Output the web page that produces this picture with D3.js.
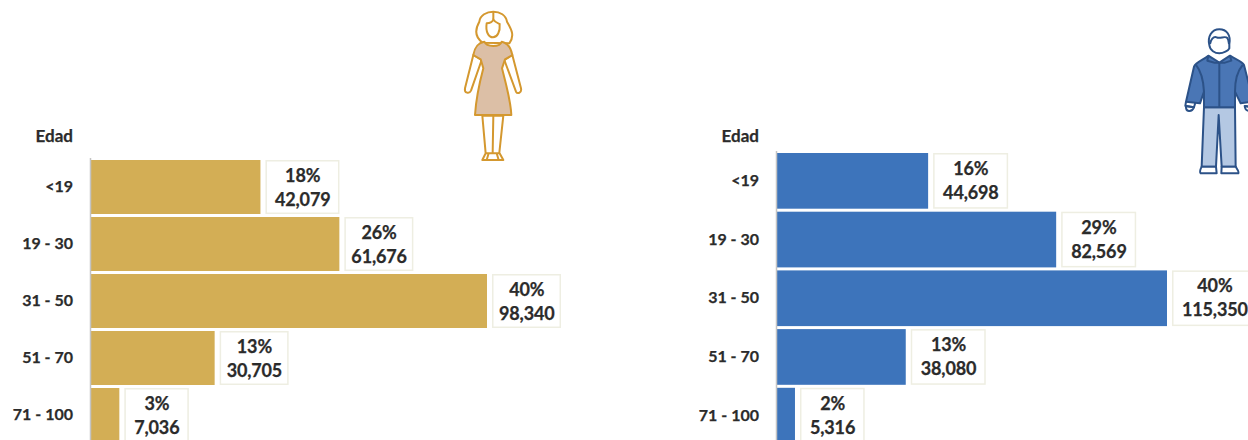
<!DOCTYPE html>
<html>
<head>
<meta charset="utf-8">
<script src="https://cdn.jsdelivr.net/npm/d3@7"></script>
<style>
html, body { margin: 0; padding: 0; background: #fff; overflow: hidden; }
svg { display: block; }
text { font-family: Lato, "Open Sans", sans-serif; font-weight: 700; fill: #2b2b2b; stroke: #2b2b2b; stroke-width: 0.25px; }
.axis text { font-size: 16px; }
.lbl { font-size: 18px; letter-spacing: -0.15px; }
</style>
</head>
<body>
<div id="chart"></div>
<script>
// Chart values
var ageGroups = ["<19", "19 - 30", "31 - 50", "51 - 70", "71 - 100"];
var womenCounts = [42079, 61676, 98340, 30705, 7036];
var womenPct = ["18%", "26%", "40%", "13%", "3%"];
var menCounts = [44698, 82569, 115350, 38080, 5316];
var menPct = ["16%", "29%", "40%", "13%", "2%"];

var svgWdt = 1248;
var svgHgt = 440;

var svg = d3.select("#chart").append("svg")
    .attr("width", svgWdt)
    .attr("height", svgHgt);

// One bar panel, counts + pct labels in boxes next to the bars
function drawPanel(opt) {
    var x = d3.scaleLinear()
        .domain([0, d3.max(opt.counts)])
        .range([opt.x0, opt.x1]);
    var y = d3.scaleBand()
        .domain(ageGroups)
        .range([opt.top, opt.top + opt.step * 5 - 3])
        .paddingInner(3 / opt.step)
        .paddingOuter(0);

    var grp = svg.append("g");

    grp.selectAll(".bar").data(opt.counts)
        .enter()
        .append("rect")
            .attr("class", "bar")
            .attr("x", x(0))
            .attr("y", (d, i) => y(ageGroups[i]))
            .attr("width", d => x(d) - x(0))
            .attr("height", y.bandwidth())
            .attr("fill", opt.color);

    // Category axis
    var lftRule = d3.axisLeft(y).tickSize(0).tickPadding(17.5);
    var yAxis = grp.append("g").attr("class", "axis")
        .attr("transform", `translate(${opt.x0 - 0.5}, 0)`)
        .call(lftRule);
    yAxis.select(".domain")
        .attr("stroke", "#c4c4c4")
        .attr("stroke-width", 1.5)
        .attr("d", `M0,${opt.top - 2}V${svgHgt}`);

    grp.append("text")
        .attr("x", opt.x0 - 18)
        .attr("y", 142)
        .attr("text-anchor", "end")
        .style("font-size", "17px")
        .text("Edad");

    // Label boxes
    var lbls = grp.selectAll(".lblGrp").data(opt.counts)
        .enter()
        .append("g")
            .attr("class", "lblGrp")
            .attr("transform", (d, i) => `translate(${x(d) + 5}, ${y(ageGroups[i])})`);

    var box = lbls.append("rect")
        .attr("fill", "#fff")
        .attr("stroke", "#eeeee2")
        .attr("stroke-width", 1.5)
        .attr("y", 0.75)
        .attr("height", y.bandwidth() - 1.5);

    var top = lbls.append("text")
        .attr("class", "lbl")
        .attr("text-anchor", "middle")
        .attr("y", 22)
        .text((d, i) => opt.pct[i]);

    var bot = lbls.append("text")
        .attr("class", "lbl")
        .attr("text-anchor", "middle")
        .attr("y", 46)
        .text(d => d3.format(",")(d));

    // Box width follows the text, first box is a bit wider
    bot.each(function(d, i) {
        var w = Math.max(this.getComputedTextLength() + opt.pad * 2, 63);
        if (i == 0) w += opt.firstExtra;
        d3.select(box.nodes()[i]).attr("x", 0.75).attr("width", w);
        d3.select(this).attr("x", w / 2 + 1);
        d3.select(top.nodes()[i]).attr("x", w / 2 + 1);
    });
}

drawPanel({
    counts: womenCounts, pct: womenPct, color: "#d3ae55",
    x0: 91, x1: 487, top: 160, step: 57, pad: 6, firstExtra: 5
});
drawPanel({
    counts: menCounts, pct: menPct, color: "#3d74bb",
    x0: 777, x1: 1167, top: 153, step: 58.7, pad: 9, firstExtra: 0
});

// Woman icon
var woman = svg.append("g")
    .attr("transform", "translate(440, 0) scale(0.3333)")
    .attr("fill", "#fff")
    .attr("stroke", "#d4982f")
    .attr("stroke-width", 6)
    .attr("stroke-linejoin", "round");
woman.append("path").attr("d", "M128 128C105 112 104 90 118 65C120 46 140 35 160 35C180 35 198 46 201 65C216 90 224 108 208 130Z");
woman.append("path").attr("d", "M140 70C150 70 160 65 160 58C165 68 175 70 179 72C181 95 172 112 159 112C146 112 136 95 140 70Z");
woman.append("path").attr("d", "M160 35V58");
woman.append("path").attr("d", "M100 165L75 265C72 280 88 282 93 272L125 180Z");
woman.append("path").attr("d", "M217 165L243 265C246 280 232 282 228 275L193 180Z");
woman.append("path").attr("d", "M127 347L137 460L127 480H190L178 458L190 347Z");
woman.append("path").attr("d", "M160 347L158 460M137 460H178M146 460L140 480M170 460L176 480");
woman.append("path")
    .attr("fill", "#dcbfa6")
    .attr("d", "M133 125C118 128 105 135 100 165L122 178L130 205C118 250 108 300 105 345H214C212 300 195 240 186 205L195 178L217 165C212 140 200 128 185 125C180 142 140 142 133 125Z");

// Man icon
var man = svg.append("g")
    .attr("transform", "translate(1170, 20) scale(0.3333)")
    .attr("fill", "#fff")
    .attr("stroke", "#2c5288")
    .attr("stroke-width", 6)
    .attr("stroke-linejoin", "round");
man.append("path").attr("d", "M118 75C112 50 125 28 148 28C170 28 183 45 178 72L178 85C175 92 160 100 148 100C135 100 120 92 118 75Z");
man.append("path").attr("fill", "none").attr("d", "M120 72C122 60 130 48 140 52C150 58 165 46 172 54C176 60 176 66 177 72");
man.append("path").attr("d", "M48 258C46 276 65 278 72 262Z");
man.append("path").attr("d", "M224 258C226 276 245 278 250 262Z");
man.append("path")
    .attr("fill", "#b4c8e3")
    .attr("d", "M102 262L95 440H138L146 285L155 440H197L195 262Z");
man.append("path").attr("d", "M95 440C90 450 88 456 92 460H140L138 440ZM155 440L154 460H205C208 456 202 448 197 440Z");
man.append("path")
    .attr("fill", "#4a76b5")
    .attr("d", "M115 107C100 120 78 125 72 140L48 245L90 250L102 215V262H195V215L212 250L250 245L222 135C215 122 195 118 180 107L148 128Z");
man.append("path").attr("fill", "none").attr("d", "M148 128V262M115 107L112 122L134 128L148 128L165 128L184 122L180 107M78 135C90 150 100 175 102 215M218 135C205 150 195 175 195 215M48 245L46 258L72 262L76 248M224 258L250 262");
man.append("path").attr("fill", "#fff").attr("stroke", "none").attr("d", "M135 108L148 124L162 108Z");
</script>
</body>
</html>
